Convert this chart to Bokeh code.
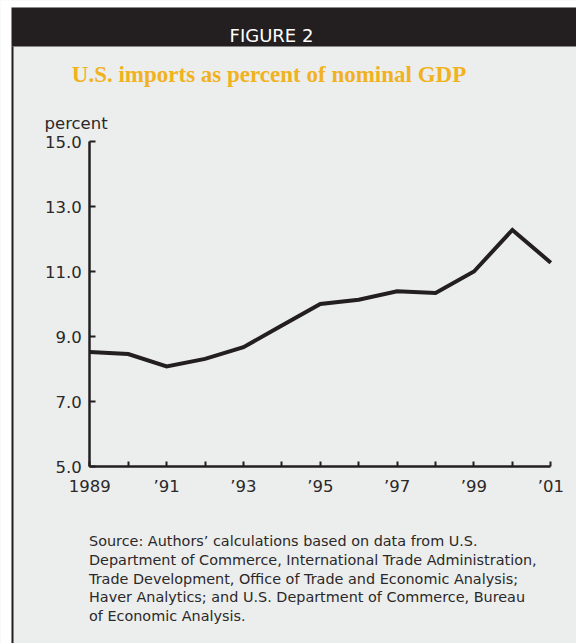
from bokeh.plotting import figure
from bokeh.models import Label, BoxAnnotation, FixedTicker, Range1d
from bokeh.embed import file_html
from bokeh.resources import INLINE

# ---- data ----
years = [1989, 1990, 1991, 1992, 1993, 1994, 1995, 1996, 1997, 1998, 1999, 2000, 2001]
imports_pct = [8.52, 8.46, 8.08, 8.31, 8.67, 9.34, 10.00, 10.13, 10.39, 10.34, 11.00, 12.28, 11.27]
y_ticks = [5, 7, 9, 11, 13, 15]
y_tick_labels = ["5.0", "7.0", "9.0", "11.0", "13.0", "15.0"]
x_labeled_years = [1989, 1991, 1993, 1995, 1997, 1999, 2001]
x_tick_labels = ["1989", "\u201991", "\u201993", "\u201995", "\u201997", "\u201999", "\u201901"]
header_text = "FIGURE 2"
title_text = "U.S. imports as percent of nominal GDP"
y_axis_label = "percent"
source_lines = [
    "Source: Authors\u2019 calculations based on data from U.S.",
    "Department of Commerce, International Trade Administration,",
    "Trade Development, Office of Trade and Economic Analysis;",
    "Haver Analytics; and U.S. Department of Commerce, Bureau",
    "of Economic Analysis.",
]

INK = "#231f20"
TEXT = "#2b2829"
PANEL = "#eceeed"
GOLD = "#f1b21f"
SANS = "DejaVu Sans"

W, H = 576, 643
# pixel placement of the plotting area (layout)
X_LEFT_PX, X_RIGHT_PX = 89.3, 550.3     # years[0] .. years[-1]
Y_BOT_PX, Y_TOP_PX = 466.0, 141.0       # y_ticks[0] .. y_ticks[-1]
x_lo, x_hi = years[0], years[-1]
y_lo, y_hi = y_ticks[0], y_ticks[-1]
ux = (x_hi - x_lo) / (X_RIGHT_PX - X_LEFT_PX)
uy = (y_hi - y_lo) / (Y_BOT_PX - Y_TOP_PX)


def dx(px):
    return x_lo + (px - X_LEFT_PX) * ux


def dy(py):
    return y_lo + (Y_BOT_PX - py) * uy


p = figure(width=W, height=H, output_backend="svg", toolbar_location=None, title=None,
           x_range=Range1d(dx(0), dx(W)), y_range=Range1d(dy(H), dy(0)),
           min_border=0, background_fill_color=PANEL, border_fill_color=PANEL,
           outline_line_color=None)
p.grid.visible = False

# background pieces of the frame (white margins, dark header band, dark left rule)
def box(l, r, t, b, color):
    p.add_layout(BoxAnnotation(left=dx(l), right=dx(r), top=dy(t), bottom=dy(b),
                               fill_color=color, fill_alpha=1, line_color=None))

box(0, W, 0, 7, "white")
box(0, 11, 0, H, "white")
box(11, W, 7, 46, INK)
box(11, 13, 46, H, INK)

p.line(years, imports_pct, line_width=4, line_color=INK, line_join="miter")

# axes
for ax in (p.xaxis[0], p.yaxis[0]):
    ax.axis_line_color = INK
    ax.axis_line_width = 2.5
    ax.major_tick_line_color = INK
    ax.major_tick_line_width = 2
    ax.major_tick_out = 0
    ax.minor_tick_line_color = None
    ax.major_label_text_font = SANS
    ax.major_label_text_font_size = "16.5px"
    ax.major_label_text_color = TEXT

p.xaxis.fixed_location = y_lo
p.xaxis.bounds = (x_lo, x_hi)
p.xaxis.ticker = FixedTicker(ticks=years)
overrides_x = {y: "" for y in years}
for yr, lab in zip(x_labeled_years, x_tick_labels):
    overrides_x[yr] = lab
p.xaxis.major_label_overrides = overrides_x
p.xaxis.major_tick_in = 5
p.xaxis.major_label_standoff = 10

p.yaxis.fixed_location = x_lo
p.yaxis.bounds = (y_lo, y_hi)
p.yaxis.ticker = FixedTicker(ticks=y_ticks)
p.yaxis.major_label_overrides = {t: l for t, l in zip(y_ticks, y_tick_labels)}
p.yaxis.major_tick_in = 6
p.yaxis.major_label_standoff = 8


def label(x, y, text, **kw):
    p.add_layout(Label(x=dx(x), y=dy(y), text=text, **kw))

label(271, 35, header_text, text_font=SANS, text_font_size="18px",
      text_color="white", text_align="center", text_baseline="alphabetic")
label(268.5, 74, title_text, text_font="Liberation Serif", text_font_size="23px",
      text_font_style="bold", text_color=GOLD, text_align="center", text_baseline="alphabetic")
label(44, 122.5, y_axis_label, text_font=SANS, text_font_size="16.5px",
      text_color=TEXT, text_align="left", text_baseline="alphabetic")
for i, line in enumerate(source_lines):
    label(88.5, 540.7 + i * 18.65, line, text_font=SANS, text_font_size="14.4px",
          text_color=TEXT, text_align="left", text_baseline="alphabetic")

open("out.html", "w").write(file_html(p, INLINE))
